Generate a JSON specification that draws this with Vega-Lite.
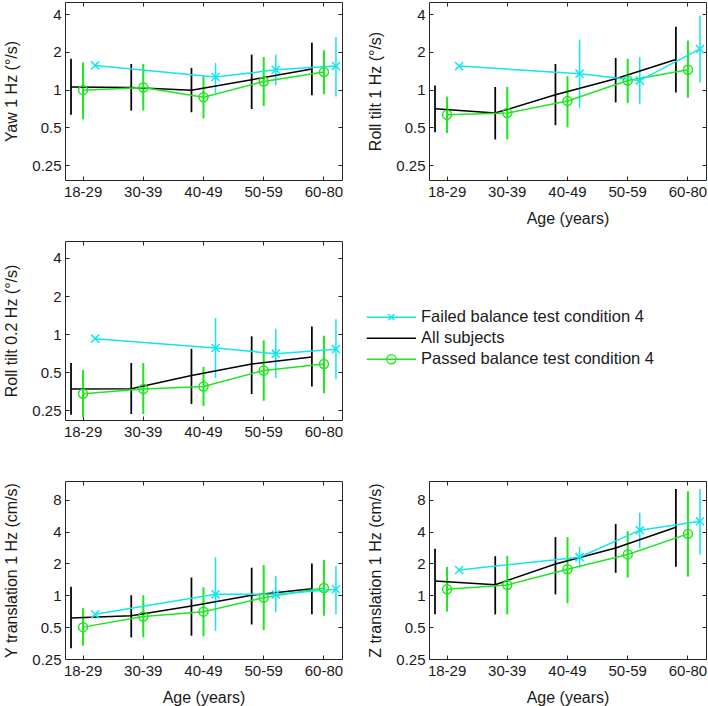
{
  "$schema": "https://vega.github.io/schema/vega-lite/v6.json",
  "padding": {"left": 3, "top": 1, "right": 0, "bottom": 0},
  "config": {
    "font": "Liberation Sans",
    "view": {"stroke": "#262626", "strokeWidth": 1},
    "axis": {"domain": false, "grid": false, "ticks": true, "tickSize": -4, "tickColor": "#262626", "tickWidth": 1,
      "labelFont": "Liberation Sans", "titleFont": "Liberation Sans", "labelFontSize": 15, "titleFontSize": 16,
      "titleFontWeight": "normal", "labelColor": "#1a1a1a", "titleColor": "#1a1a1a", "labelPadding": 8, "labelAngle": 0},
    "axisX": {"titlePadding": 11},
    "axisY": {"titlePadding": 12}
  },
  "datasets": {
    "yaw": [
      {"age": "18-29", "series": "All subjects", "mean": 1.05, "lo": 0.63, "hi": 1.76},
      {"age": "30-39", "series": "All subjects", "mean": 1.04, "lo": 0.68, "hi": 1.6},
      {"age": "40-49", "series": "All subjects", "mean": 0.99, "lo": 0.66, "hi": 1.49},
      {"age": "50-59", "series": "All subjects", "mean": 1.2, "lo": 0.7, "hi": 1.9},
      {"age": "60-80", "series": "All subjects", "mean": 1.46, "lo": 0.9, "hi": 2.36},
      {"age": "18-29", "series": "Passed balance test condition 4", "mean": 0.99, "lo": 0.58, "hi": 1.65},
      {"age": "30-39", "series": "Passed balance test condition 4", "mean": 1.04, "lo": 0.68, "hi": 1.6},
      {"age": "40-49", "series": "Passed balance test condition 4", "mean": 0.87, "lo": 0.59, "hi": 1.28},
      {"age": "50-59", "series": "Passed balance test condition 4", "mean": 1.16, "lo": 0.74, "hi": 1.82},
      {"age": "60-80", "series": "Passed balance test condition 4", "mean": 1.38, "lo": 0.92, "hi": 2.06},
      {"age": "18-29", "series": "Failed balance test condition 4", "mean": 1.56, "lo": null, "hi": null},
      {"age": "40-49", "series": "Failed balance test condition 4", "mean": 1.26, "lo": 0.94, "hi": 1.63},
      {"age": "50-59", "series": "Failed balance test condition 4", "mean": 1.44, "lo": 1.08, "hi": 1.9},
      {"age": "60-80", "series": "Failed balance test condition 4", "mean": 1.54, "lo": 0.88, "hi": 2.63}
    ],
    "roll1": [
      {"age": "18-29", "series": "All subjects", "mean": 0.705, "lo": 0.456, "hi": 1.08},
      {"age": "30-39", "series": "All subjects", "mean": 0.65, "lo": 0.4, "hi": 1.05},
      {"age": "40-49", "series": "All subjects", "mean": 0.91, "lo": 0.52, "hi": 1.6},
      {"age": "50-59", "series": "All subjects", "mean": 1.22, "lo": 0.79, "hi": 1.79},
      {"age": "60-80", "series": "All subjects", "mean": 1.74, "lo": 0.95, "hi": 3.17},
      {"age": "18-29", "series": "Passed balance test condition 4", "mean": 0.63, "lo": 0.45, "hi": 0.88},
      {"age": "30-39", "series": "Passed balance test condition 4", "mean": 0.65, "lo": 0.4, "hi": 1.05},
      {"age": "40-49", "series": "Passed balance test condition 4", "mean": 0.81, "lo": 0.5, "hi": 1.28},
      {"age": "50-59", "series": "Passed balance test condition 4", "mean": 1.18, "lo": 0.78, "hi": 1.76},
      {"age": "60-80", "series": "Passed balance test condition 4", "mean": 1.44, "lo": 0.86, "hi": 2.46},
      {"age": "18-29", "series": "Failed balance test condition 4", "mean": 1.54, "lo": null, "hi": null},
      {"age": "40-49", "series": "Failed balance test condition 4", "mean": 1.34, "lo": 0.71, "hi": 2.51},
      {"age": "50-59", "series": "Failed balance test condition 4", "mean": 1.18, "lo": 0.77, "hi": 1.81},
      {"age": "60-80", "series": "Failed balance test condition 4", "mean": 2.11, "lo": 1.14, "hi": 3.9}
    ],
    "roll02": [
      {"age": "18-29", "series": "All subjects", "mean": 0.367, "lo": 0.23, "hi": 0.59},
      {"age": "30-39", "series": "All subjects", "mean": 0.37, "lo": 0.233, "hi": 0.59},
      {"age": "40-49", "series": "All subjects", "mean": 0.47, "lo": 0.28, "hi": 0.765},
      {"age": "50-59", "series": "All subjects", "mean": 0.58, "lo": 0.335, "hi": 0.96},
      {"age": "60-80", "series": "All subjects", "mean": 0.66, "lo": 0.385, "hi": 1.15},
      {"age": "18-29", "series": "Passed balance test condition 4", "mean": 0.337, "lo": 0.22, "hi": 0.52},
      {"age": "30-39", "series": "Passed balance test condition 4", "mean": 0.367, "lo": 0.233, "hi": 0.59},
      {"age": "40-49", "series": "Passed balance test condition 4", "mean": 0.385, "lo": 0.27, "hi": 0.55},
      {"age": "50-59", "series": "Passed balance test condition 4", "mean": 0.515, "lo": 0.297, "hi": 0.89},
      {"age": "60-80", "series": "Passed balance test condition 4", "mean": 0.58, "lo": 0.34, "hi": 0.97},
      {"age": "18-29", "series": "Failed balance test condition 4", "mean": 0.92, "lo": null, "hi": null},
      {"age": "40-49", "series": "Failed balance test condition 4", "mean": 0.775, "lo": 0.45, "hi": 1.34},
      {"age": "50-59", "series": "Failed balance test condition 4", "mean": 0.7, "lo": 0.45, "hi": 1.1},
      {"age": "60-80", "series": "Failed balance test condition 4", "mean": 0.76, "lo": 0.44, "hi": 1.31}
    ],
    "ytrans": [
      {"age": "18-29", "series": "All subjects", "mean": 0.61, "lo": 0.315, "hi": 1.2},
      {"age": "30-39", "series": "All subjects", "mean": 0.64, "lo": 0.4, "hi": 1.0},
      {"age": "40-49", "series": "All subjects", "mean": 0.79, "lo": 0.415, "hi": 1.47},
      {"age": "50-59", "series": "All subjects", "mean": 1.0, "lo": 0.53, "hi": 1.82},
      {"age": "60-80", "series": "All subjects", "mean": 1.155, "lo": 0.66, "hi": 2.0},
      {"age": "18-29", "series": "Passed balance test condition 4", "mean": 0.5, "lo": 0.334, "hi": 0.755},
      {"age": "30-39", "series": "Passed balance test condition 4", "mean": 0.63, "lo": 0.4, "hi": 1.0},
      {"age": "40-49", "series": "Passed balance test condition 4", "mean": 0.7, "lo": 0.41, "hi": 1.19},
      {"age": "50-59", "series": "Passed balance test condition 4", "mean": 0.95, "lo": 0.47, "hi": 1.93},
      {"age": "60-80", "series": "Passed balance test condition 4", "mean": 1.17, "lo": 0.64, "hi": 2.15},
      {"age": "18-29", "series": "Failed balance test condition 4", "mean": 0.66, "lo": null, "hi": null},
      {"age": "40-49", "series": "Failed balance test condition 4", "mean": 1.02, "lo": 0.46, "hi": 2.29},
      {"age": "50-59", "series": "Failed balance test condition 4", "mean": 1.02, "lo": 0.69, "hi": 1.52},
      {"age": "60-80", "series": "Failed balance test condition 4", "mean": 1.14, "lo": 0.66, "hi": 1.89}
    ],
    "ztrans": [
      {"age": "18-29", "series": "All subjects", "mean": 1.36, "lo": 0.66, "hi": 2.75},
      {"age": "30-39", "series": "All subjects", "mean": 1.26, "lo": 0.66, "hi": 2.34},
      {"age": "40-49", "series": "All subjects", "mean": 1.97, "lo": 1.02, "hi": 3.54},
      {"age": "50-59", "series": "All subjects", "mean": 2.8, "lo": 1.63, "hi": 4.72},
      {"age": "60-80", "series": "All subjects", "mean": 4.39, "lo": 1.86, "hi": 10.1},
      {"age": "18-29", "series": "Passed balance test condition 4", "mean": 1.14, "lo": 0.7, "hi": 1.85},
      {"age": "30-39", "series": "Passed balance test condition 4", "mean": 1.25, "lo": 0.66, "hi": 2.34},
      {"age": "40-49", "series": "Passed balance test condition 4", "mean": 1.76, "lo": 0.84, "hi": 3.54},
      {"age": "50-59", "series": "Passed balance test condition 4", "mean": 2.43, "lo": 1.47, "hi": 4.03},
      {"age": "60-80", "series": "Passed balance test condition 4", "mean": 3.8, "lo": 1.5, "hi": 9.6},
      {"age": "18-29", "series": "Failed balance test condition 4", "mean": 1.73, "lo": null, "hi": null},
      {"age": "40-49", "series": "Failed balance test condition 4", "mean": 2.29, "lo": 1.82, "hi": 2.87},
      {"age": "50-59", "series": "Failed balance test condition 4", "mean": 4.12, "lo": 2.8, "hi": 6.0},
      {"age": "60-80", "series": "Failed balance test condition 4", "mean": 5.0, "lo": 2.43, "hi": 10.1}
    ]
  },
  "columns": 2,
  "spacing": {"row": 61, "column": 87},
  "bounds": "flush",
  "resolve": {"scale": {"color": "independent", "shape": "independent"}, "legend": {"color": "independent", "shape": "independent"}},
  "concat": [
    {
      "width": 277, "height": 178,
      "data": {"name": "yaw"},
      "resolve": {"axis": {"x": "independent", "y": "independent"}},
      "encoding": {
        "xOffset": {"field": "series", "type": "nominal", "scale": {"type": "point", "padding": 0, "domain": ["All subjects", "Passed balance test condition 4", "Failed balance test condition 4"]}},
        "color": {"field": "series", "type": "nominal", "scale": {"domain": ["Failed balance test condition 4", "All subjects", "Passed balance test condition 4"], "range": ["#10e6ee", "#000000", "#1ee61e"]}, "legend": null}
      },
      "layer": [
        {"transform": [{"filter": "isValid(datum.lo)"}], "mark": {"type": "rule"},
          "encoding": {
            "x": {"field": "age", "type": "nominal", "bandPosition": 0, "scale": {"domain": ["18-29", "30-39", "40-49", "50-59", "60-80"], "paddingInner": 0.6, "paddingOuter": 0.1}, "axis": {"title": null}},
            "y": {"field": "lo", "type": "quantitative", "scale": {"type": "log", "domain": [0.19, 5], "nice": false}, "axis": {"title": "Yaw 1 Hz (°/s)", "values": [0.25, 0.5, 1, 2, 4], "format": "~g"}}, "y2": {"field": "hi"},
            "strokeWidth": {"field": "series", "type": "nominal", "scale": {"domain": ["Failed balance test condition 4", "All subjects", "Passed balance test condition 4"], "range": [1.5, 2, 1.5]}, "legend": null}}},
        {"mark": {"type": "line", "strokeWidth": 1.5},
          "encoding": {
            "x": {"field": "age", "type": "nominal", "bandPosition": 0, "scale": {"domain": ["18-29", "30-39", "40-49", "50-59", "60-80"], "paddingInner": 0.6, "paddingOuter": 0.1}, "axis": {"orient": "top", "labels": false, "title": null}},
            "y": {"field": "mean", "type": "quantitative", "scale": {"type": "log", "domain": [0.19, 5], "nice": false}, "axis": {"orient": "right", "labels": false, "title": null, "values": [0.25, 0.5, 1, 2, 4]}}}},
        {"transform": [{"filter": "datum.series != 'All subjects'"}], "mark": {"type": "point", "filled": false, "size": 80, "strokeWidth": 1.5, "opacity": 1},
          "encoding": {
            "x": {"field": "age", "type": "nominal", "bandPosition": 0, "scale": {"domain": ["18-29", "30-39", "40-49", "50-59", "60-80"], "paddingInner": 0.6, "paddingOuter": 0.1}, "axis": null},
            "y": {"field": "mean", "type": "quantitative", "scale": {"type": "log", "domain": [0.19, 5], "nice": false}, "axis": null},
            "shape": {"field": "series", "type": "nominal", "scale": {"domain": ["Failed balance test condition 4", "Passed balance test condition 4"], "range": ["M-0.9,-0.9L0.9,0.9M-0.9,0.9L0.9,-0.9", "circle"]}, "legend": null}}}
      ]
    },
    {
      "width": 277, "height": 178,
      "data": {"name": "roll1"},
      "resolve": {"axis": {"x": "independent", "y": "independent"}},
      "encoding": {
        "xOffset": {"field": "series", "type": "nominal", "scale": {"type": "point", "padding": 0, "domain": ["All subjects", "Passed balance test condition 4", "Failed balance test condition 4"]}},
        "color": {"field": "series", "type": "nominal", "scale": {"domain": ["Failed balance test condition 4", "All subjects", "Passed balance test condition 4"], "range": ["#10e6ee", "#000000", "#1ee61e"]}, "legend": null}
      },
      "layer": [
        {"transform": [{"filter": "isValid(datum.lo)"}], "mark": {"type": "rule"},
          "encoding": {
            "x": {"field": "age", "type": "nominal", "bandPosition": 0, "scale": {"domain": ["18-29", "30-39", "40-49", "50-59", "60-80"], "paddingInner": 0.6, "paddingOuter": 0.1}, "axis": {"title": "Age (years)"}},
            "y": {"field": "lo", "type": "quantitative", "scale": {"type": "log", "domain": [0.19, 5], "nice": false}, "axis": {"title": "Roll tilt 1 Hz (°/s)", "values": [0.25, 0.5, 1, 2, 4], "format": "~g"}}, "y2": {"field": "hi"},
            "strokeWidth": {"field": "series", "type": "nominal", "scale": {"domain": ["Failed balance test condition 4", "All subjects", "Passed balance test condition 4"], "range": [1.5, 2, 1.5]}, "legend": null}}},
        {"mark": {"type": "line", "strokeWidth": 1.5},
          "encoding": {
            "x": {"field": "age", "type": "nominal", "bandPosition": 0, "scale": {"domain": ["18-29", "30-39", "40-49", "50-59", "60-80"], "paddingInner": 0.6, "paddingOuter": 0.1}, "axis": {"orient": "top", "labels": false, "title": null}},
            "y": {"field": "mean", "type": "quantitative", "scale": {"type": "log", "domain": [0.19, 5], "nice": false}, "axis": {"orient": "right", "labels": false, "title": null, "values": [0.25, 0.5, 1, 2, 4]}}}},
        {"transform": [{"filter": "datum.series != 'All subjects'"}], "mark": {"type": "point", "filled": false, "size": 80, "strokeWidth": 1.5, "opacity": 1},
          "encoding": {
            "x": {"field": "age", "type": "nominal", "bandPosition": 0, "scale": {"domain": ["18-29", "30-39", "40-49", "50-59", "60-80"], "paddingInner": 0.6, "paddingOuter": 0.1}, "axis": null},
            "y": {"field": "mean", "type": "quantitative", "scale": {"type": "log", "domain": [0.19, 5], "nice": false}, "axis": null},
            "shape": {"field": "series", "type": "nominal", "scale": {"domain": ["Failed balance test condition 4", "Passed balance test condition 4"], "range": ["M-0.9,-0.9L0.9,0.9M-0.9,0.9L0.9,-0.9", "circle"]}, "legend": null}}}
      ]
    },
    {
      "width": 277, "height": 179,
      "data": {"name": "roll02"},
      "resolve": {"axis": {"x": "independent", "y": "independent"}},
      "encoding": {
        "xOffset": {"field": "series", "type": "nominal", "scale": {"type": "point", "padding": 0, "domain": ["All subjects", "Passed balance test condition 4", "Failed balance test condition 4"]}},
        "color": {"field": "series", "type": "nominal", "scale": {"domain": ["Failed balance test condition 4", "All subjects", "Passed balance test condition 4"], "range": ["#10e6ee", "#000000", "#1ee61e"]}, "legend": null}
      },
      "layer": [
        {"transform": [{"filter": "isValid(datum.lo)"}], "mark": {"type": "rule"},
          "encoding": {
            "x": {"field": "age", "type": "nominal", "bandPosition": 0, "scale": {"domain": ["18-29", "30-39", "40-49", "50-59", "60-80"], "paddingInner": 0.6, "paddingOuter": 0.1}, "axis": {"title": null}},
            "y": {"field": "lo", "type": "quantitative", "scale": {"type": "log", "domain": [0.209, 5.45], "nice": false}, "axis": {"title": "Roll tilt 0.2 Hz (°/s)", "values": [0.25, 0.5, 1, 2, 4], "format": "~g"}}, "y2": {"field": "hi"},
            "strokeWidth": {"field": "series", "type": "nominal", "scale": {"domain": ["Failed balance test condition 4", "All subjects", "Passed balance test condition 4"], "range": [1.5, 2, 1.5]}, "legend": null}}},
        {"mark": {"type": "line", "strokeWidth": 1.5},
          "encoding": {
            "x": {"field": "age", "type": "nominal", "bandPosition": 0, "scale": {"domain": ["18-29", "30-39", "40-49", "50-59", "60-80"], "paddingInner": 0.6, "paddingOuter": 0.1}, "axis": {"orient": "top", "labels": false, "title": null}},
            "y": {"field": "mean", "type": "quantitative", "scale": {"type": "log", "domain": [0.209, 5.45], "nice": false}, "axis": {"orient": "right", "labels": false, "title": null, "values": [0.25, 0.5, 1, 2, 4]}}}},
        {"transform": [{"filter": "datum.series != 'All subjects'"}], "mark": {"type": "point", "filled": false, "size": 80, "strokeWidth": 1.5, "opacity": 1},
          "encoding": {
            "x": {"field": "age", "type": "nominal", "bandPosition": 0, "scale": {"domain": ["18-29", "30-39", "40-49", "50-59", "60-80"], "paddingInner": 0.6, "paddingOuter": 0.1}, "axis": null},
            "y": {"field": "mean", "type": "quantitative", "scale": {"type": "log", "domain": [0.209, 5.45], "nice": false}, "axis": null},
            "shape": {"field": "series", "type": "nominal", "scale": {"domain": ["Failed balance test condition 4", "Passed balance test condition 4"], "range": ["M-0.9,-0.9L0.9,0.9M-0.9,0.9L0.9,-0.9", "circle"]}, "legend": null}}}
      ]
    },
    {
      "width": 277, "height": 179,
      "view": {"stroke": null},
      "data": {"name": "roll02"},
      "transform": [{"filter": "false"}],
      "mark": {"type": "point", "filled": false},
      "encoding": {
        "color": {"field": "series", "type": "nominal", "scale": {"domain": ["Failed balance test condition 4", "All subjects", "Passed balance test condition 4"], "range": ["#10e6ee", "#000000", "#1ee61e"]},
          "legend": {"orient": "none", "legendX": -66.5, "legendY": 68, "direction": "vertical", "title": null, "padding": 0, "labelFont": "Liberation Sans", "labelFontSize": 16.5, "labelColor": "#1a1a1a", "symbolSize": 64, "symbolStrokeWidth": 1.3, "symbolOffset": 0, "labelOffset": 42, "rowPadding": 4, "labelLimit": 400, "symbolFillColor": "transparent", "symbolOpacity": 1}},
        "shape": {"field": "series", "type": "nominal", "scale": {"domain": ["Failed balance test condition 4", "All subjects", "Passed balance test condition 4"], "range": ["M-1,0H11.3M4.4,-0.75L5.9,0.75M4.4,0.75L5.9,-0.75", "M-1,0H11.3", "M-1,0H11.3M6.3,0A1.15 1.15 0 1 1 4 0A1.15 1.15 0 1 1 6.3 0"]},
          "legend": {"orient": "none", "legendX": -66.5, "legendY": 68, "direction": "vertical", "title": null, "padding": 0, "labelFont": "Liberation Sans", "labelFontSize": 16.5, "labelColor": "#1a1a1a", "symbolSize": 64, "symbolStrokeWidth": 1.3, "symbolOffset": 0, "labelOffset": 42, "rowPadding": 4, "labelLimit": 400, "symbolFillColor": "transparent", "symbolOpacity": 1}}
      }
    },
    {
      "width": 277, "height": 178,
      "data": {"name": "ytrans"},
      "resolve": {"axis": {"x": "independent", "y": "independent"}},
      "encoding": {
        "xOffset": {"field": "series", "type": "nominal", "scale": {"type": "point", "padding": 0, "domain": ["All subjects", "Passed balance test condition 4", "Failed balance test condition 4"]}},
        "color": {"field": "series", "type": "nominal", "scale": {"domain": ["Failed balance test condition 4", "All subjects", "Passed balance test condition 4"], "range": ["#10e6ee", "#000000", "#1ee61e"]}, "legend": null}
      },
      "layer": [
        {"transform": [{"filter": "isValid(datum.lo)"}], "mark": {"type": "rule"},
          "encoding": {
            "x": {"field": "age", "type": "nominal", "bandPosition": 0, "scale": {"domain": ["18-29", "30-39", "40-49", "50-59", "60-80"], "paddingInner": 0.6, "paddingOuter": 0.1}, "axis": {"title": "Age (years)"}},
            "y": {"field": "lo", "type": "quantitative", "scale": {"type": "log", "domain": [0.25, 12], "nice": false}, "axis": {"title": "Y translation 1 Hz (cm/s)", "values": [0.25, 0.5, 1, 2, 4, 8], "format": "~g"}}, "y2": {"field": "hi"},
            "strokeWidth": {"field": "series", "type": "nominal", "scale": {"domain": ["Failed balance test condition 4", "All subjects", "Passed balance test condition 4"], "range": [1.5, 2, 1.5]}, "legend": null}}},
        {"mark": {"type": "line", "strokeWidth": 1.5},
          "encoding": {
            "x": {"field": "age", "type": "nominal", "bandPosition": 0, "scale": {"domain": ["18-29", "30-39", "40-49", "50-59", "60-80"], "paddingInner": 0.6, "paddingOuter": 0.1}, "axis": {"orient": "top", "labels": false, "title": null}},
            "y": {"field": "mean", "type": "quantitative", "scale": {"type": "log", "domain": [0.25, 12], "nice": false}, "axis": {"orient": "right", "labels": false, "title": null, "values": [0.25, 0.5, 1, 2, 4, 8]}}}},
        {"transform": [{"filter": "datum.series != 'All subjects'"}], "mark": {"type": "point", "filled": false, "size": 80, "strokeWidth": 1.5, "opacity": 1},
          "encoding": {
            "x": {"field": "age", "type": "nominal", "bandPosition": 0, "scale": {"domain": ["18-29", "30-39", "40-49", "50-59", "60-80"], "paddingInner": 0.6, "paddingOuter": 0.1}, "axis": null},
            "y": {"field": "mean", "type": "quantitative", "scale": {"type": "log", "domain": [0.25, 12], "nice": false}, "axis": null},
            "shape": {"field": "series", "type": "nominal", "scale": {"domain": ["Failed balance test condition 4", "Passed balance test condition 4"], "range": ["M-0.9,-0.9L0.9,0.9M-0.9,0.9L0.9,-0.9", "circle"]}, "legend": null}}}
      ]
    },
    {
      "width": 277, "height": 178,
      "data": {"name": "ztrans"},
      "resolve": {"axis": {"x": "independent", "y": "independent"}},
      "encoding": {
        "xOffset": {"field": "series", "type": "nominal", "scale": {"type": "point", "padding": 0, "domain": ["All subjects", "Passed balance test condition 4", "Failed balance test condition 4"]}},
        "color": {"field": "series", "type": "nominal", "scale": {"domain": ["Failed balance test condition 4", "All subjects", "Passed balance test condition 4"], "range": ["#10e6ee", "#000000", "#1ee61e"]}, "legend": null}
      },
      "layer": [
        {"transform": [{"filter": "isValid(datum.lo)"}], "mark": {"type": "rule"},
          "encoding": {
            "x": {"field": "age", "type": "nominal", "bandPosition": 0, "scale": {"domain": ["18-29", "30-39", "40-49", "50-59", "60-80"], "paddingInner": 0.6, "paddingOuter": 0.1}, "axis": {"title": "Age (years)"}},
            "y": {"field": "lo", "type": "quantitative", "scale": {"type": "log", "domain": [0.25, 12], "nice": false}, "axis": {"title": "Z translation 1 Hz (cm/s)", "values": [0.25, 0.5, 1, 2, 4, 8], "format": "~g"}}, "y2": {"field": "hi"},
            "strokeWidth": {"field": "series", "type": "nominal", "scale": {"domain": ["Failed balance test condition 4", "All subjects", "Passed balance test condition 4"], "range": [1.5, 2, 1.5]}, "legend": null}}},
        {"mark": {"type": "line", "strokeWidth": 1.5},
          "encoding": {
            "x": {"field": "age", "type": "nominal", "bandPosition": 0, "scale": {"domain": ["18-29", "30-39", "40-49", "50-59", "60-80"], "paddingInner": 0.6, "paddingOuter": 0.1}, "axis": {"orient": "top", "labels": false, "title": null}},
            "y": {"field": "mean", "type": "quantitative", "scale": {"type": "log", "domain": [0.25, 12], "nice": false}, "axis": {"orient": "right", "labels": false, "title": null, "values": [0.25, 0.5, 1, 2, 4, 8]}}}},
        {"transform": [{"filter": "datum.series != 'All subjects'"}], "mark": {"type": "point", "filled": false, "size": 80, "strokeWidth": 1.5, "opacity": 1},
          "encoding": {
            "x": {"field": "age", "type": "nominal", "bandPosition": 0, "scale": {"domain": ["18-29", "30-39", "40-49", "50-59", "60-80"], "paddingInner": 0.6, "paddingOuter": 0.1}, "axis": null},
            "y": {"field": "mean", "type": "quantitative", "scale": {"type": "log", "domain": [0.25, 12], "nice": false}, "axis": null},
            "shape": {"field": "series", "type": "nominal", "scale": {"domain": ["Failed balance test condition 4", "Passed balance test condition 4"], "range": ["M-0.9,-0.9L0.9,0.9M-0.9,0.9L0.9,-0.9", "circle"]}, "legend": null}}}
      ]
    }
  ]
}
